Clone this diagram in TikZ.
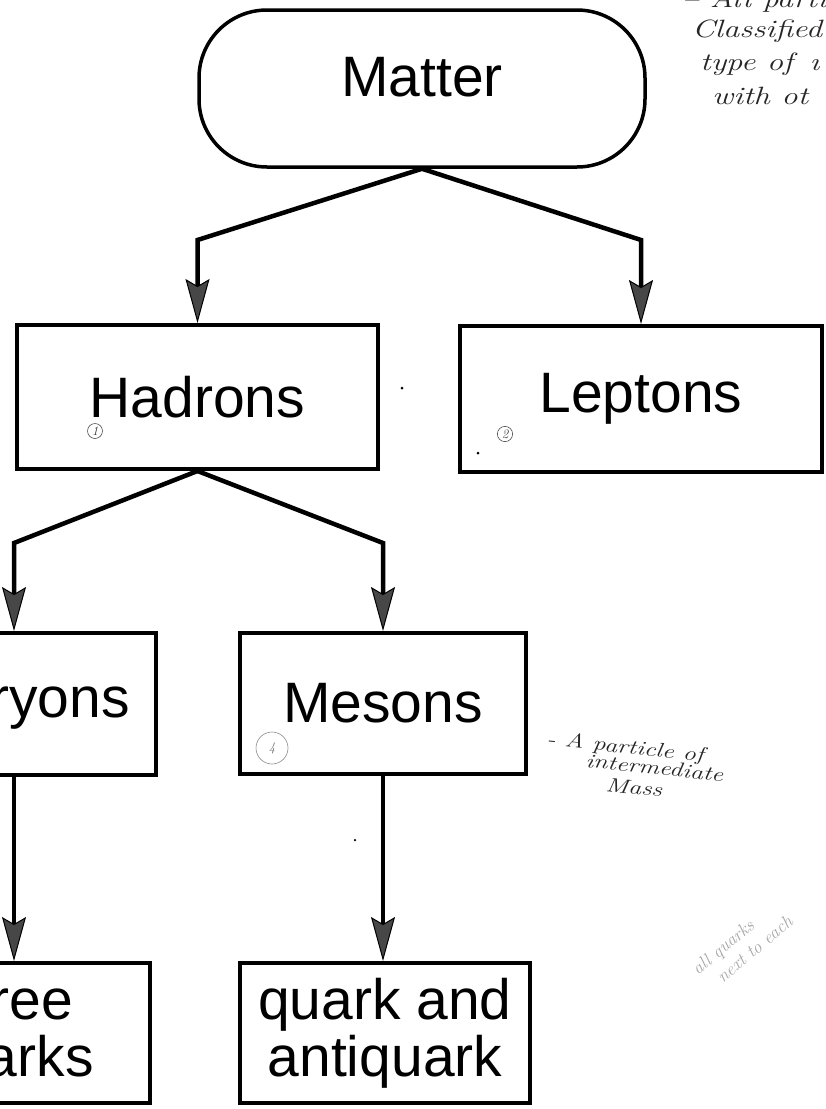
\documentclass[tikz,border=0pt]{standalone}
\usepackage{fontspec}
\newfontfamily\boxfont{Liberation Sans}
\usetikzlibrary{arrows.meta}

\tikzset{
  stage/.style={draw, line width=4pt, align=center, inner sep=0pt,
    font=\boxfont\fontsize{57}{57}\selectfont},
  conn/.style={line width=4.5pt,
    -{Stealth[length=44pt,width=24pt,inset=7pt,line width=1pt,fill=black!72]}},
  note/.style={font=\itshape\fontsize{25}{27}\selectfont, text=black!85,
    inner sep=0pt, anchor=base west},
  sidenote/.style={font=\itshape\fontsize{20}{22}\selectfont, text=black!85,
    inner sep=0pt, anchor=base west, rotate=-6},
  faint/.style={font=\itshape\fontsize{18}{22}\selectfont, text=black!35,
    inner sep=0pt, align=left},
  tag/.style={circle, draw=black!70, line width=0.6pt, inner sep=1.5pt,
    text=black!80, font=\itshape\fontsize{13}{13}\selectfont},
  speck/.style={circle, fill=black, inner sep=0pt, minimum size=3pt}
}
% wide, loose pencil lettering
\newcommand{\pencil}[1]{\scalebox{1.3}[1]{#1}}

\begin{document}
\begin{tikzpicture}[x=1pt,y=-1pt]
  % page
  \useasboundingbox (0,0) rectangle (826,1109);
  \fill[white] (0,0) rectangle (826,1109);

  % top of the tree
  \node[draw, line width=3.5pt, rounded corners=68pt,
        minimum width=446pt, minimum height=157pt] (matter) at (422,88.5) {};
  \node[inner sep=0pt, font=\boxfont\fontsize{57}{57}\selectfont]
        (mattertext) at (422,77) {Matter};

  % first level
  \node[stage, minimum width=361pt, minimum height=144pt] (hadrons) at (197.5,397) {Hadrons};
  \node[stage, minimum width=362pt, minimum height=146pt] (leptons) at (641,399) {Leptons};

  % second level
  \node[stage, minimum width=284pt, minimum height=142pt] (baryons) at (14,704) {\hspace*{22pt}Baryons};
  \node[stage, minimum width=286pt, minimum height=141pt] (mesons) at (383,703.5) {Mesons};

  % quark content
  \node[stage, minimum width=284pt, minimum height=140pt] (threeq) at (8,1033) {three\\quarks};
  \node[stage, minimum width=290pt, minimum height=140pt] (qaq) at (385,1033) {quark and\\antiquark};

  % levels where the connectors bend
  \coordinate (lvlA) at (0,240);
  \coordinate (lvlB) at (0,543);

  % connectors
  \draw[conn] (matter.south) -- (hadrons.north |- lvlA) -- (hadrons.north);
  \draw[conn] (matter.south) -- (leptons.north |- lvlA) -- (leptons.north);
  \draw[conn] (hadrons.south) -- (baryons.north |- lvlB) -- (baryons.north);
  \draw[conn] (hadrons.south) -- (mesons.north |- lvlB) -- (mesons.north);
  \draw[conn] (baryons.south) -- (baryons.south |- threeq.north);
  \draw[conn] (mesons.south) -- (mesons.south |- qaq.north);

  % pencil notes
  \node[note] (n1) at (682,7) {\pencil{-- All partic}};
  \node[note] (n2) at (692,37) {\pencil{Classified}};
  \node[note] (n3) at (700,70) {\pencil{type of \,\i}};
  \node[note] (n4) at (712,104) {\pencil{with ot}};

  \node[tag] (t1) at (95,431) {1};
  \node[tag] (t2) at (505,434) {2};
  \node[tag, draw=black!45, text=black!60, minimum size=32pt] (t4) at (272,748) {4};

  \node[sidenote] (m1) at (546,745) {\pencil{- A particle of}};
  \node[sidenote] (m2) at (585,767) {\pencil{intermediate}};
  \node[sidenote] (m3) at (605,791) {\pencil{Mass}};

  \node[faint, rotate=40] (f1) at (742,945) {all quarks\\\hspace*{14pt}next to each};

  % specks on the sheet
  \node[speck] (s1) at (402,388) {};
  \node[speck] (s2) at (478,453) {};
  \node[speck, minimum size=2.5pt] (s3) at (355,840) {};
\end{tikzpicture}
\end{document}
